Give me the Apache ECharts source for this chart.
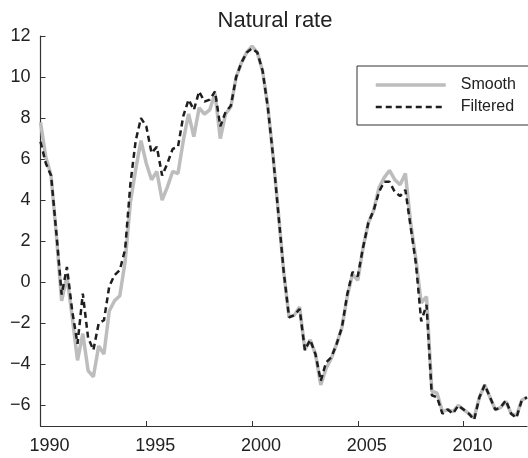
<!doctype html>
<html>
	<head>
		<meta charset="UTF-8">
		<title>Natural rate</title>
		<script src="https://cdn.jsdelivr.net/npm/echarts@6/dist/echarts.min.js"></script>
		<style>
			html, body{
				margin: 0;
				padding: 0;
				background: #fff;
			}
			#chart{
				width: 528px;
				height: 458px;
			}
		</style>
	</head>
	<body>
		<div id="chart"></div>
		<script type="text/javascript">
			// quarterly data, first point is 1990Q1
			var startYear = 1990;
			var smooth = [
				7.8, 6.1, 5.2, 2.3, -0.9, 0.3, -1.7, -3.8, -2.5, -4.3,
				-4.6, -3.1, -3.5, -1.4, -0.9, -0.65, 1.0, 3.9, 5.5, 6.9,
				5.8, 5.0, 5.4, 4.0, 4.65, 5.4, 5.3, 6.9, 8.2, 7.1,
				8.5, 8.2, 8.4, 9.2, 7.0, 8.2, 8.55, 10.0, 10.7, 11.2,
				11.5, 11.2, 10.3, 8.55, 6.1, 3.35, 0.5, -1.7, -1.6, -1.2,
				-3.3, -2.8, -3.5, -5.0, -4.2, -3.7, -3.0, -2.2, -0.7, 0.4,
				0.1, 1.7, 2.9, 3.5, 4.6, 5.1, 5.45, 5.0, 4.75, 5.3,
				2.9, 1.1, -1.0, -0.7, -5.3, -5.4, -6.3, -6.2, -6.3, -6.0,
				-6.2, -6.4, -6.6, -5.6, -5.0, -5.6, -6.2, -6.1, -5.8, -6.4,
				-6.5, -5.75, -5.6
			];
			var filtered = [
				6.85, 5.8, 5.2, 2.4, -0.6, 0.75, -1.4, -3.0, -0.55, -2.7,
				-3.3, -2.0, -1.85, -0.2, 0.35, 0.6, 1.6, 4.8, 6.9, 8.0,
				7.6, 6.3, 6.6, 5.2, 5.8, 6.5, 6.6, 8.1, 8.9, 8.4,
				9.3, 8.8, 8.9, 9.3, 7.6, 8.3, 8.6, 10.0, 10.7, 11.2,
				11.4, 11.2, 10.3, 8.5, 6.1, 3.3, 0.5, -1.7, -1.6, -1.3,
				-3.3, -2.8, -3.5, -4.8, -3.9, -3.65, -3.0, -2.2, -0.6, 0.5,
				0.3, 1.7, 2.9, 3.5, 4.4, 4.9, 4.9, 4.4, 4.2, 4.5,
				2.7, 0.9, -1.9, -1.1, -5.5, -5.6, -6.4, -6.2, -6.4, -6.0,
				-6.2, -6.4, -6.7, -5.6, -5.0, -5.6, -6.2, -6.1, -5.75, -6.4,
				-6.6, -5.75, -5.6
			];
			var yearTicks = [1990, 1995, 2000, 2005, 2010];
			var rateTicks = [-6, -4, -2, 0, 2, 4, 6, 8, 10, 12];

			function toPairs(values){
				var out = [];
				for(var i = 0; i < values.length; i++){
					out.push([startYear + i / 4, values[i]]);
				}
				return out;
			}

			var font = '"Liberation Sans", Arial, sans-serif';
			var chart = echarts.init(document.getElementById('chart'));

			chart.setOption({
				animation: false,
				title: {
					text: 'Natural rate',
					left: 270,
					textAlign: 'center',
					top: 5,
					textStyle: {fontFamily: font, fontSize: 22, fontWeight: 'normal', color: '#222'}
				},
				legend: {
					left: 357,
					top: 66,
					orient: 'vertical',
					padding: [11, 30, 10, 17],
					itemWidth: 70,
					itemHeight: 16,
					itemGap: 6,
					borderColor: '#333',
					borderWidth: 1,
					borderRadius: 0,
					itemStyle: {opacity: 0},
					textStyle: {fontFamily: font, fontSize: 16, color: '#222', padding: [0, 0, 0, 10]},
					data: [
						{name: 'Smooth', lineStyle: {width: 3.5}},
						{name: 'Filtered', lineStyle: {width: 2.5}}
					]
				},
				grid: {left: 40.5, right: 1, top: 36, bottom: 32},
				xAxis: {
					type: 'value',
					min: 1990,
					max: 2013,
					interval: 5,
					splitLine: {show: false},
					axisLine: {onZero: false, lineStyle: {color: '#333', width: 1.2}},
					axisTick: {inside: true, length: 5, customValues: yearTicks, lineStyle: {color: '#333'}},
					axisLabel: {
						customValues: yearTicks,
						margin: 11,
						padding: [0, 0, 0, 18],
						fontFamily: font,
						fontSize: 18,
						color: '#222',
						formatter: function(v){
							return String(v);
						}
					}
				},
				yAxis: {
					type: 'value',
					min: -7,
					max: 12,
					splitLine: {show: false},
					axisLine: {show: true, lineStyle: {color: '#333', width: 1.2}},
					axisTick: {show: true, inside: true, length: 5, customValues: rateTicks, lineStyle: {color: '#333'}},
					axisLabel: {
						customValues: rateTicks,
						margin: 10,
						fontFamily: font,
						fontSize: 18,
						color: '#222',
						formatter: function(v){
							return v < 0 ? '\u2212' + Math.abs(v) : String(v);
						}
					}
				},
				series: [
					{
						name: 'Smooth',
						type: 'line',
						data: toPairs(smooth),
						symbol: 'none',
						color: '#bdbdbd',
						lineStyle: {color: '#bdbdbd', width: 3.5}
					},
					{
						name: 'Filtered',
						type: 'line',
						data: toPairs(filtered),
						symbol: 'none',
						color: '#1e1e1e',
						lineStyle: {color: '#1e1e1e', width: 2.5, type: [6, 4]}
					}
				]
			});
		</script>
	</body>
</html>
